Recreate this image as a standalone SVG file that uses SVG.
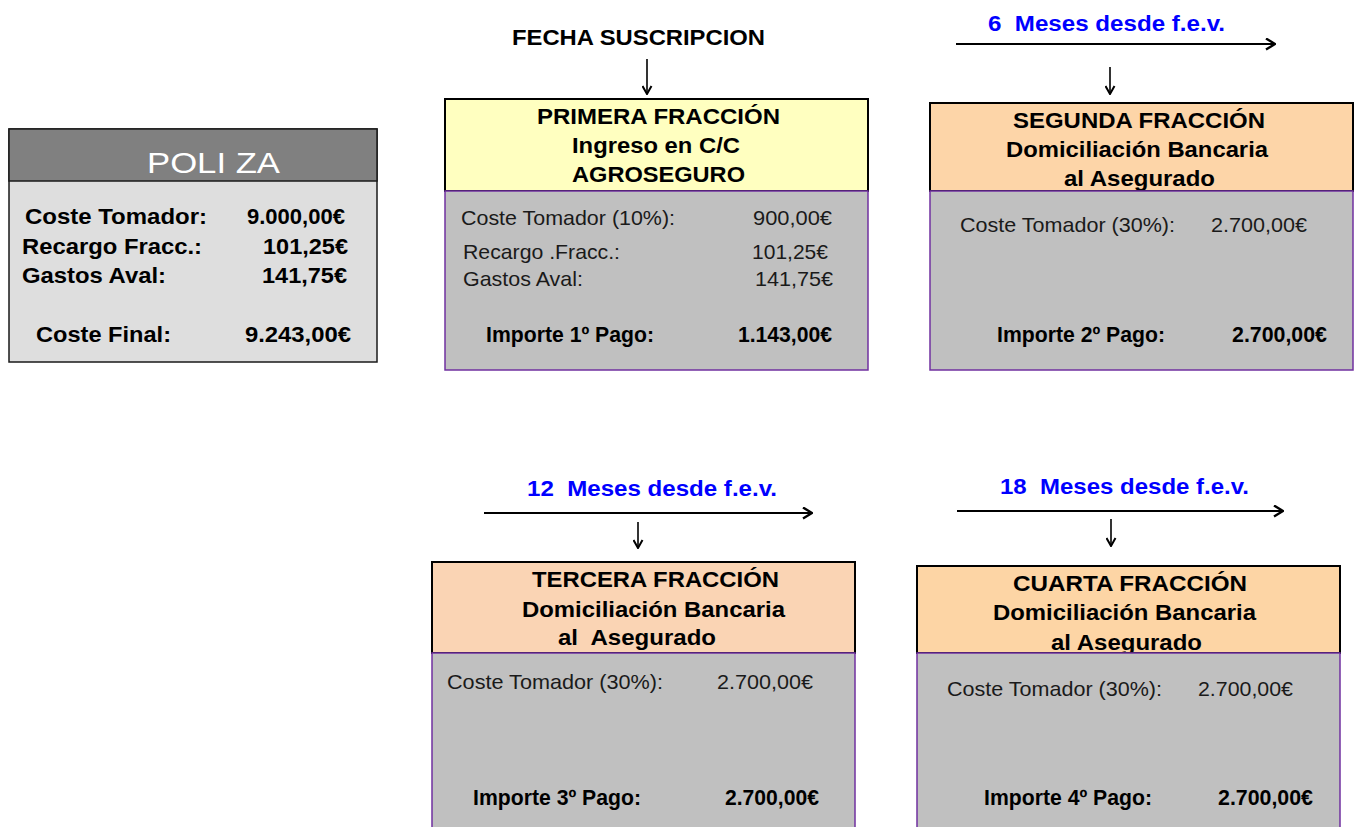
<svg xmlns="http://www.w3.org/2000/svg" width="1355" height="827" viewBox="0 0 1355 827">
<style>
text{font-family:"Liberation Sans",Arial,sans-serif;white-space:pre}
.b{font-weight:bold;font-size:22.5px;fill:#000}
.p{font-weight:bold;font-size:21.5px;fill:#000}
.n{font-size:21px;fill:#1a1a1a}
.bl{font-weight:bold;font-size:22.5px;fill:#0000ff}
.t{font-size:29px;fill:#fff}
.hd{stroke:#000;stroke-width:2}
.bd{fill:#c0c0c0;stroke:#7030a0;stroke-width:1.5}
.ln{stroke:#000;stroke-width:2;fill:none}
.dn{stroke:#000;stroke-width:1.6;fill:none}
</style>
<defs>
<marker id="arr" markerUnits="userSpaceOnUse" viewBox="0 0 11 13" refX="10" refY="6.5" markerWidth="11" markerHeight="13" orient="auto">
<path d="M1,1 L10,6.5 L1,12" fill="none" stroke="#000" stroke-width="2.4"/>
</marker>
<marker id="arrs" markerUnits="userSpaceOnUse" viewBox="0 0 10 11" refX="9" refY="5.5" markerWidth="10" markerHeight="11" orient="auto">
<path d="M1,1 L9,5.5 L1,10" fill="none" stroke="#000" stroke-width="2"/>
</marker>
</defs>
<rect width="1355" height="827" fill="#fff"/>

<g id="poliza">
<rect x="9" y="129" width="368" height="233" fill="#dedede" stroke="#1a1a1a" stroke-width="1.5"/>
<rect x="9" y="129" width="368" height="52" fill="#808080" stroke="#1a1a1a" stroke-width="1.5"/>
<text class="t" x="147" y="173" textLength="133" lengthAdjust="spacingAndGlyphs">POLI ZA</text>
<text class="p" x="25" y="224" textLength="182" lengthAdjust="spacingAndGlyphs">Coste Tomador:</text>
<text class="p" x="247" y="224" textLength="98" lengthAdjust="spacingAndGlyphs">9.000,00€</text>
<text class="p" x="22" y="254" textLength="180" lengthAdjust="spacingAndGlyphs">Recargo Fracc.:</text>
<text class="p" x="263" y="254" textLength="85" lengthAdjust="spacingAndGlyphs">101,25€</text>
<text class="p" x="22" y="283" textLength="144" lengthAdjust="spacingAndGlyphs">Gastos Aval:</text>
<text class="p" x="262" y="283" textLength="85" lengthAdjust="spacingAndGlyphs">141,75€</text>
<text class="p" x="36" y="342" textLength="135" lengthAdjust="spacingAndGlyphs">Coste Final:</text>
<text class="p" x="245" y="342" textLength="106" lengthAdjust="spacingAndGlyphs">9.243,00€</text>
</g>

<g id="fecha-suscripcion">
<text class="b" x="512" y="45" textLength="253" lengthAdjust="spacingAndGlyphs">FECHA SUSCRIPCION</text>
</g>

<g id="primera">
<rect class="hd" x="445" y="99" width="423" height="92" fill="#ffffc0"/>
<text class="b" x="537" y="124" textLength="243" lengthAdjust="spacingAndGlyphs">PRIMERA FRACCIÓN</text>
<text class="b" x="572" y="153" textLength="168" lengthAdjust="spacingAndGlyphs">Ingreso en C/C</text>
<text class="b" x="572" y="182" textLength="173" lengthAdjust="spacingAndGlyphs">AGROSEGURO</text>
<rect class="bd" x="445" y="191" width="423" height="179"/>
<text class="n" x="461" y="225" textLength="214" lengthAdjust="spacingAndGlyphs">Coste Tomador (10%):</text>
<text class="n" x="753" y="225" textLength="79" lengthAdjust="spacingAndGlyphs">900,00€</text>
<text class="n" x="463" y="259" textLength="157" lengthAdjust="spacingAndGlyphs">Recargo .Fracc.:</text>
<text class="n" x="752" y="259" textLength="76" lengthAdjust="spacingAndGlyphs">101,25€</text>
<text class="n" x="463" y="286" textLength="120" lengthAdjust="spacingAndGlyphs">Gastos Aval:</text>
<text class="n" x="755" y="286" textLength="78" lengthAdjust="spacingAndGlyphs">141,75€</text>
<text class="p" x="486" y="342" textLength="168" lengthAdjust="spacingAndGlyphs">Importe 1º Pago:</text>
<text class="p" x="738" y="342" textLength="94" lengthAdjust="spacingAndGlyphs">1.143,00€</text>
</g>

<g id="segunda">
<text class="bl" x="988" y="31" textLength="237" lengthAdjust="spacingAndGlyphs">6  Meses desde f.e.v.</text>
<rect class="hd" x="930" y="103" width="423" height="88" fill="#fdd5a8"/>
<text class="b" x="1013" y="128" textLength="252" lengthAdjust="spacingAndGlyphs">SEGUNDA FRACCIÓN</text>
<text class="b" x="1006" y="157" textLength="262" lengthAdjust="spacingAndGlyphs">Domiciliación Bancaria</text>
<text class="b" x="1064" y="186" textLength="151" lengthAdjust="spacingAndGlyphs">al Asegurado</text>
<rect class="bd" x="930" y="191" width="423" height="179"/>
<text class="n" x="960" y="232" textLength="215" lengthAdjust="spacingAndGlyphs">Coste Tomador (30%):</text>
<text class="n" x="1211" y="232" textLength="96" lengthAdjust="spacingAndGlyphs">2.700,00€</text>
<text class="p" x="997" y="342" textLength="168" lengthAdjust="spacingAndGlyphs">Importe 2º Pago:</text>
<text class="p" x="1232" y="342" textLength="95" lengthAdjust="spacingAndGlyphs">2.700,00€</text>
</g>

<g id="tercera">
<text class="bl" x="527" y="496" textLength="250" lengthAdjust="spacingAndGlyphs">12  Meses desde f.e.v.</text>
<rect class="hd" x="432" y="562" width="423" height="91" fill="#fad4b4"/>
<text class="b" x="532" y="587" textLength="247" lengthAdjust="spacingAndGlyphs">TERCERA FRACCIÓN</text>
<text class="b" x="522" y="617" textLength="263" lengthAdjust="spacingAndGlyphs">Domiciliación Bancaria</text>
<text class="b" x="558" y="645" textLength="158" lengthAdjust="spacingAndGlyphs">al  Asegurado</text>
<rect class="bd" x="432" y="653" width="423" height="180"/>
<text class="n" x="447" y="689" textLength="216" lengthAdjust="spacingAndGlyphs">Coste Tomador (30%):</text>
<text class="n" x="717" y="689" textLength="96" lengthAdjust="spacingAndGlyphs">2.700,00€</text>
<text class="p" x="473" y="805" textLength="168" lengthAdjust="spacingAndGlyphs">Importe 3º Pago:</text>
<text class="p" x="725" y="805" textLength="94" lengthAdjust="spacingAndGlyphs">2.700,00€</text>
</g>

<g id="cuarta">
<text class="bl" x="1000" y="494" textLength="249" lengthAdjust="spacingAndGlyphs">18  Meses desde f.e.v.</text>
<rect class="hd" x="917" y="566" width="423" height="87" fill="#fdd5a5"/>
<text class="b" x="1013" y="591" textLength="234" lengthAdjust="spacingAndGlyphs">CUARTA FRACCIÓN</text>
<text class="b" x="993" y="620" textLength="263" lengthAdjust="spacingAndGlyphs">Domiciliación Bancaria</text>
<text class="b" x="1051" y="650" textLength="151" lengthAdjust="spacingAndGlyphs">al Asegurado</text>
<rect class="bd" x="917" y="653" width="423" height="180"/>
<text class="n" x="947" y="696" textLength="215" lengthAdjust="spacingAndGlyphs">Coste Tomador (30%):</text>
<text class="n" x="1198" y="696" textLength="95" lengthAdjust="spacingAndGlyphs">2.700,00€</text>
<text class="p" x="984" y="805" textLength="168" lengthAdjust="spacingAndGlyphs">Importe 4º Pago:</text>
<text class="p" x="1218" y="805" textLength="95" lengthAdjust="spacingAndGlyphs">2.700,00€</text>
</g>

<g id="connectors">
<line class="dn" x1="647" y1="59" x2="647" y2="94" marker-end="url(#arrs)"/>
<line class="ln" x1="956" y1="44" x2="1275" y2="44" marker-end="url(#arr)"/>
<line class="dn" x1="1110" y1="67" x2="1110" y2="94" marker-end="url(#arrs)"/>
<line class="ln" x1="484" y1="513" x2="812" y2="513" marker-end="url(#arr)"/>
<line class="dn" x1="638" y1="522" x2="638" y2="548" marker-end="url(#arrs)"/>
<line class="ln" x1="957" y1="511" x2="1283" y2="511" marker-end="url(#arr)"/>
<line class="dn" x1="1111" y1="519" x2="1111" y2="546" marker-end="url(#arrs)"/>
</g>
</svg>
